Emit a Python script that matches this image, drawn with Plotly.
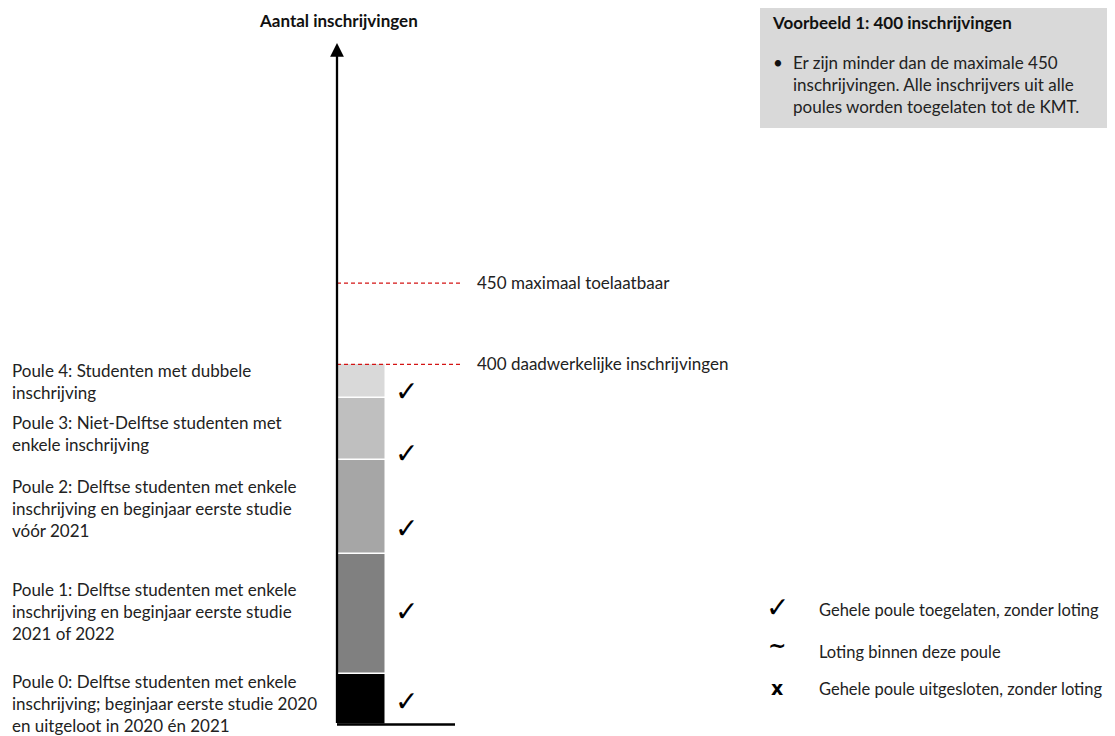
import plotly.graph_objects as go

# ---- data ----
poules = ["Poule 0", "Poule 1", "Poule 2", "Poule 3", "Poule 4"]
segment_sizes = [31, 74, 58, 38, 21]          # schematic sizes (sum = 222 above base)
axis_base = 178                               # schematic axis start
actual_total = 400
max_total = 450
axis_top = 598
colors = ["#000000", "#808080", "#a6a6a6", "#bfbfbf", "#d9d9d9"]
status = ["✓", "✓", "✓", "✓", "✓"]
labels = [
    ["Poule 0: Delftse studenten met enkele", "inschrijving; beginjaar eerste studie 2020", "en uitgeloot in 2020 én 2021"],
    ["Poule 1: Delftse studenten met enkele", "inschrijving en beginjaar eerste studie", "2021 of 2022"],
    ["Poule 2: Delftse studenten met enkele", "inschrijving en beginjaar eerste studie", "vóór 2021"],
    ["Poule 3: Niet-Delftse studenten met", "enkele inschrijving"],
    ["Poule 4: Studenten met dubbele", "inschrijving"],
]
ref_values = [max_total, actual_total]
ref_texts = ["450 maximaal toelaatbaar", "400 daadwerkelijke inschrijvingen"]
legend_symbols = ["✓", "~", "x"]
legend_texts = ["Gehele poule toegelaten, zonder loting", "Loting binnen deze poule",
                "Gehele poule uitgesloten, zonder loting"]
box_title = "Voorbeeld 1: 400 inschrijvingen"
box_lines = ["Er zijn minder dan de maximale 450", "inschrijvingen. Alle inschrijvers uit alle",
             "poules worden toegelaten tot de KMT."]

# ---- layout geometry (target pixel coords; page has an 8px body offset) ----
OFF = 8
W, H = 1115 - OFF, 736 - OFF
AX_PX = 337 - OFF    # pixel x of y-axis in figure coords
L, R, T, B = AX_PX - 20, 0, 43 - OFF, 5
PW, PH = W - L - R, H - T - B
XU = 49              # pixels per x unit (bar width = 1 unit)
x_lo = -(AX_PX - L) / XU
x_hi = x_lo + PW / XU
y_lo = 174

def px2x(px):    # target pixel x -> x units
    return (px - OFF - AX_PX) / XU

def pxp(px):     # target pixel x -> paper
    return (px - OFF - L) / PW

def pyp(py):     # target pixel y -> paper
    return (H - B - (py - OFF)) / PH

FONT = "Lato, 'Open Sans', sans-serif"
fs = 17

fig = go.Figure()
for i, p in enumerate(poules):
    fig.add_trace(go.Bar(
        x=[0.5], y=[segment_sizes[i]], base=[axis_base + sum(segment_sizes[:i])],
        width=[1], marker=dict(color=colors[i], line=dict(color="white", width=1.5)),
        name=p, showlegend=False, hoverinfo="skip"))

annotations = []
shapes = []

# y axis arrow
annotations.append(dict(x=0, y=axis_top, xref="x", yref="y", ax=0, ay=axis_base,
                        axref="x", ayref="y", text="", showarrow=True,
                        arrowhead=2, arrowsize=1.2, arrowwidth=2.3, arrowcolor="black",
                        standoff=0, startstandoff=0))
# x axis line
shapes.append(dict(type="line", xref="x", yref="y", x0=0, x1=px2x(455),
                   y0=axis_base, y1=axis_base, line=dict(color="black", width=2.3)))

# reference lines
for v, t in zip(ref_values, ref_texts):
    shapes.append(dict(type="line", xref="x", yref="y", x0=0, x1=px2x(462), y0=v, y1=v,
                       line=dict(color="#d41414", width=1.2, dash="4px,3px")))
    annotations.append(dict(x=px2x(475), y=v, xref="x", yref="y", text=t, showarrow=False,
                            xanchor="left", yanchor="middle", yshift=1,
                            font=dict(family=FONT, size=fs, color="#222")))

# checkmarks and labels
check_frac = [0.46, 0.52, 0.27, 0.10, 0.21]
label_offset = [-4, 3, -1, -4, 0]
cum = axis_base
for i in range(len(poules)):
    lo = cum
    hi = cum + segment_sizes[i]
    cum = hi
    annotations.append(dict(x=px2x(406), y=lo + check_frac[i] * segment_sizes[i],
                            xref="x", yref="y", text=status[i], showarrow=False,
                            xanchor="center", yanchor="middle",
                            font=dict(family="DejaVu Sans", size=28, color="black")))
    mid = (lo + hi) / 2
    n = len(labels[i])
    for j, line in enumerate(labels[i]):
        annotations.append(dict(x=pxp(10), y=mid, xref="paper", yref="y", text=line,
                                showarrow=False, xanchor="left", yanchor="middle",
                                yshift=((n - 1) / 2 - j) * 22 + label_offset[i],
                                font=dict(family=FONT, size=fs, color="#222")))

# axis title
annotations.append(dict(x=pxp(338), y=pyp(20), xref="paper", yref="paper",
                        text="<b>Aantal inschrijvingen</b>", showarrow=False,
                        xanchor="center", yanchor="middle",
                        font=dict(family=FONT, size=fs, color="#111")))

# info box
shapes.append(dict(type="rect", xref="paper", yref="paper", x0=pxp(760), x1=pxp(1115),
                   y0=pyp(128), y1=pyp(5), fillcolor="#d9d9d9", line=dict(width=0),
                   layer="below"))
annotations.append(dict(x=pxp(770), y=pyp(23), xref="paper", yref="paper",
                        text="<b>" + box_title + "</b>", showarrow=False,
                        xanchor="left", yanchor="middle",
                        font=dict(family=FONT, size=fs, color="#111")))
annotations.append(dict(x=pxp(771), y=pyp(62), xref="paper", yref="paper", text="•",
                        showarrow=False, xanchor="left", yanchor="middle",
                        font=dict(family=FONT, size=fs, color="#111")))
for j, line in enumerate(box_lines):
    annotations.append(dict(x=pxp(791), y=pyp(62 + 22 * j), xref="paper", yref="paper",
                            text=line, showarrow=False, xanchor="left", yanchor="middle",
                            font=dict(family=FONT, size=fs, color="#222")))

# symbol legend
sym_y = [607, 645, 688]
txt_y = [610, 652, 689]
sym_size = [28, 22, 19]
for s, t, sy, ty, ss in zip(legend_symbols, legend_texts, sym_y, txt_y, sym_size):
    annotations.append(dict(x=pxp(777), y=pyp(sy), xref="paper", yref="paper",
                            text="<b>" + s + "</b>" if s != "✓" else s, showarrow=False,
                            xanchor="center", yanchor="middle",
                            font=dict(family="DejaVu Sans", size=ss, color="black")))
    annotations.append(dict(x=pxp(817), y=pyp(ty), xref="paper", yref="paper", text=t,
                            showarrow=False, xanchor="left", yanchor="middle",
                            font=dict(family=FONT, size=16.5, color="#222")))

fig.update_layout(
    width=W, height=H, margin=dict(l=L, r=R, t=T, b=B),
    paper_bgcolor="white", plot_bgcolor="white",
    barmode="overlay", bargap=0,
    xaxis=dict(range=[x_lo, x_hi], visible=False, fixedrange=True),
    yaxis=dict(range=[y_lo, axis_top], visible=False, fixedrange=True),
    shapes=shapes, annotations=annotations, showlegend=False,
)
fig.write_html("out.html")
